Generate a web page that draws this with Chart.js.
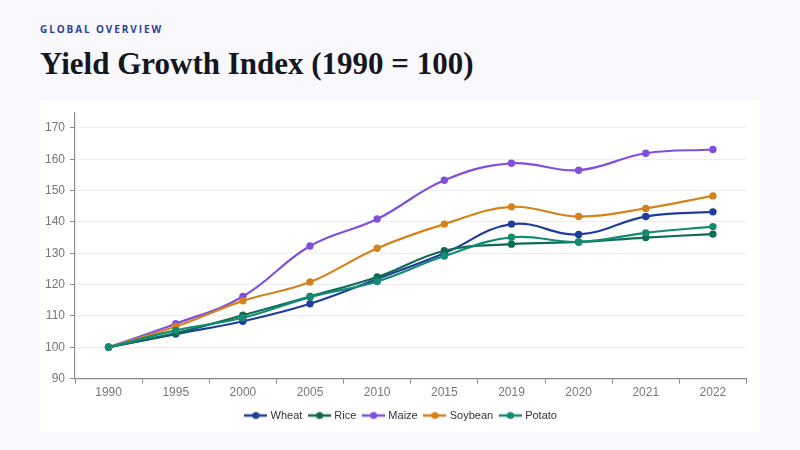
<!DOCTYPE html>
<html>
<head>
<meta charset="utf-8">
<script src="https://cdn.jsdelivr.net/npm/chart.js@4.4.1/dist/chart.umd.min.js"></script>
<style>
  html, body { margin: 0; padding: 0; background: #f8f8fd; width: 800px; height: 450px; overflow: hidden; }
  .eyebrow { position: absolute; left: 40px; top: 22px; font-family: "Open Sans", sans-serif; font-weight: 700; font-size: 10px; letter-spacing: 1.9px; color: #2f3f9a; }
  .title { position: absolute; left: 40px; top: 46px; font-family: "Liberation Serif", serif; font-weight: 700; font-size: 31px; color: #16161e; white-space: nowrap; }
  .card { position: absolute; left: 40px; top: 100px; width: 720px; height: 332px; background: #ffffff; }
  .card canvas { display: block; }
</style>
</head>
<body>
<div class="eyebrow">GLOBAL OVERVIEW</div>
<div class="title">Yield Growth Index (1990 = 100)</div>
<div class="card"><canvas id="c" width="720" height="332"></canvas></div>
<script>
const years = ["1990","1995","2000","2005","2010","2015","2019","2020","2021","2022"];
const wheat   = [100, 104.2, 108.3, 113.9, 121.8, 130.0, 139.3, 136.0, 141.7, 143.2];
const rice    = [100, 104.5, 110.2, 116.2, 122.4, 130.8, 132.9, 133.6, 135.0, 136.1];
const maize   = [100, 107.5, 116.2, 132.3, 140.9, 153.3, 158.7, 156.5, 161.9, 163.1];
const soybean = [100, 106.6, 114.8, 120.8, 131.6, 139.3, 144.8, 141.7, 144.3, 148.3];
const potato  = [100, 105.4, 109.4, 116.0, 121.0, 129.1, 135.1, 133.6, 136.5, 138.5];
const yTicks  = [90, 100, 110, 120, 130, 140, 150, 160, 170];

const colors = {
  Wheat: "#1f3d9a",
  Rice: "#0f6b55",
  Maize: "#8050dc",
  Soybean: "#d6821c",
  Potato: "#138a72"
};

function legendIcon(color) {
  const cv = document.createElement("canvas");
  cv.width = 23; cv.height = 10;
  const g = cv.getContext("2d");
  g.strokeStyle = color; g.lineWidth = 2.5;
  g.beginPath(); g.moveTo(0, 5); g.lineTo(23, 5); g.stroke();
  g.fillStyle = color;
  g.beginPath(); g.arc(11.5, 5, 3.6, 0, Math.PI * 2); g.fill();
  return cv;
}

const series = [
  ["Wheat", wheat], ["Rice", rice], ["Maize", maize], ["Soybean", soybean], ["Potato", potato]
];

const datasets = series.map(([name, vals], i) => ({
  label: name,
  data: vals,
  order: series.length - i,
  borderColor: colors[name],
  backgroundColor: colors[name],
  borderWidth: 2.2,
  pointRadius: 3.7,
  pointHoverRadius: 4,
  pointBackgroundColor: colors[name],
  pointBorderWidth: 0,
  tension: 0.4,
  fill: false
}));

const legendShift = {
  id: "legendShift",
  afterLayout(chart) {
    if (chart.legend) { chart.legend.left += 8; chart.legend.right += 8; }
  }
};

new Chart(document.getElementById("c"), {
  type: "line",
  data: { labels: years, datasets },
  plugins: [legendShift],
  options: {
    responsive: false,
    animation: false,
    layout: { padding: { top: 12, right: 13.5, left: 1, bottom: 1 } },
    plugins: {
      tooltip: { enabled: false },
      legend: {
        position: "bottom",
        labels: {
          usePointStyle: true,
          pointStyleWidth: 18.5,
          boxHeight: 10,
          padding: 8,
          color: "#333",
          font: { family: "Liberation Sans, Arial, sans-serif", size: 11 },
          generateLabels(chart) {
            return chart.data.datasets.map((ds, i) => ({
              text: ds.label,
              pointStyle: legendIcon(ds.borderColor),
              fillStyle: ds.borderColor,
              strokeStyle: ds.borderColor,
              lineWidth: 0,
              hidden: false,
              datasetIndex: i,
              fontColor: "#333"
            }));
          }
        }
      }
    },
    scales: {
      x: {
        offset: true,
        grid: { display: true, drawOnChartArea: false, drawTicks: true, tickLength: 5, tickColor: "#8a8a8a", offset: true },
        border: { display: true, color: "#8a8a8a", width: 1.2 },
        ticks: { color: "#777", padding: 2, font: { family: "Liberation Sans, Arial, sans-serif", size: 12 } }
      },
      y: {
        min: 90,
        max: 175,
        afterBuildTicks(scale) { scale.ticks = yTicks.map(v => ({ value: v })); },
        afterFit(scale) { scale.width = 34; },
        grid: { color: "#ececf2", tickColor: "#8a8a8a", tickLength: 5, lineWidth: 1 },
        border: { display: true, color: "#8a8a8a", width: 1.2 },
        ticks: { color: "#777", padding: 5, font: { family: "Liberation Sans, Arial, sans-serif", size: 12 } }
      }
    }
  }
});
</script>
</body>
</html>
